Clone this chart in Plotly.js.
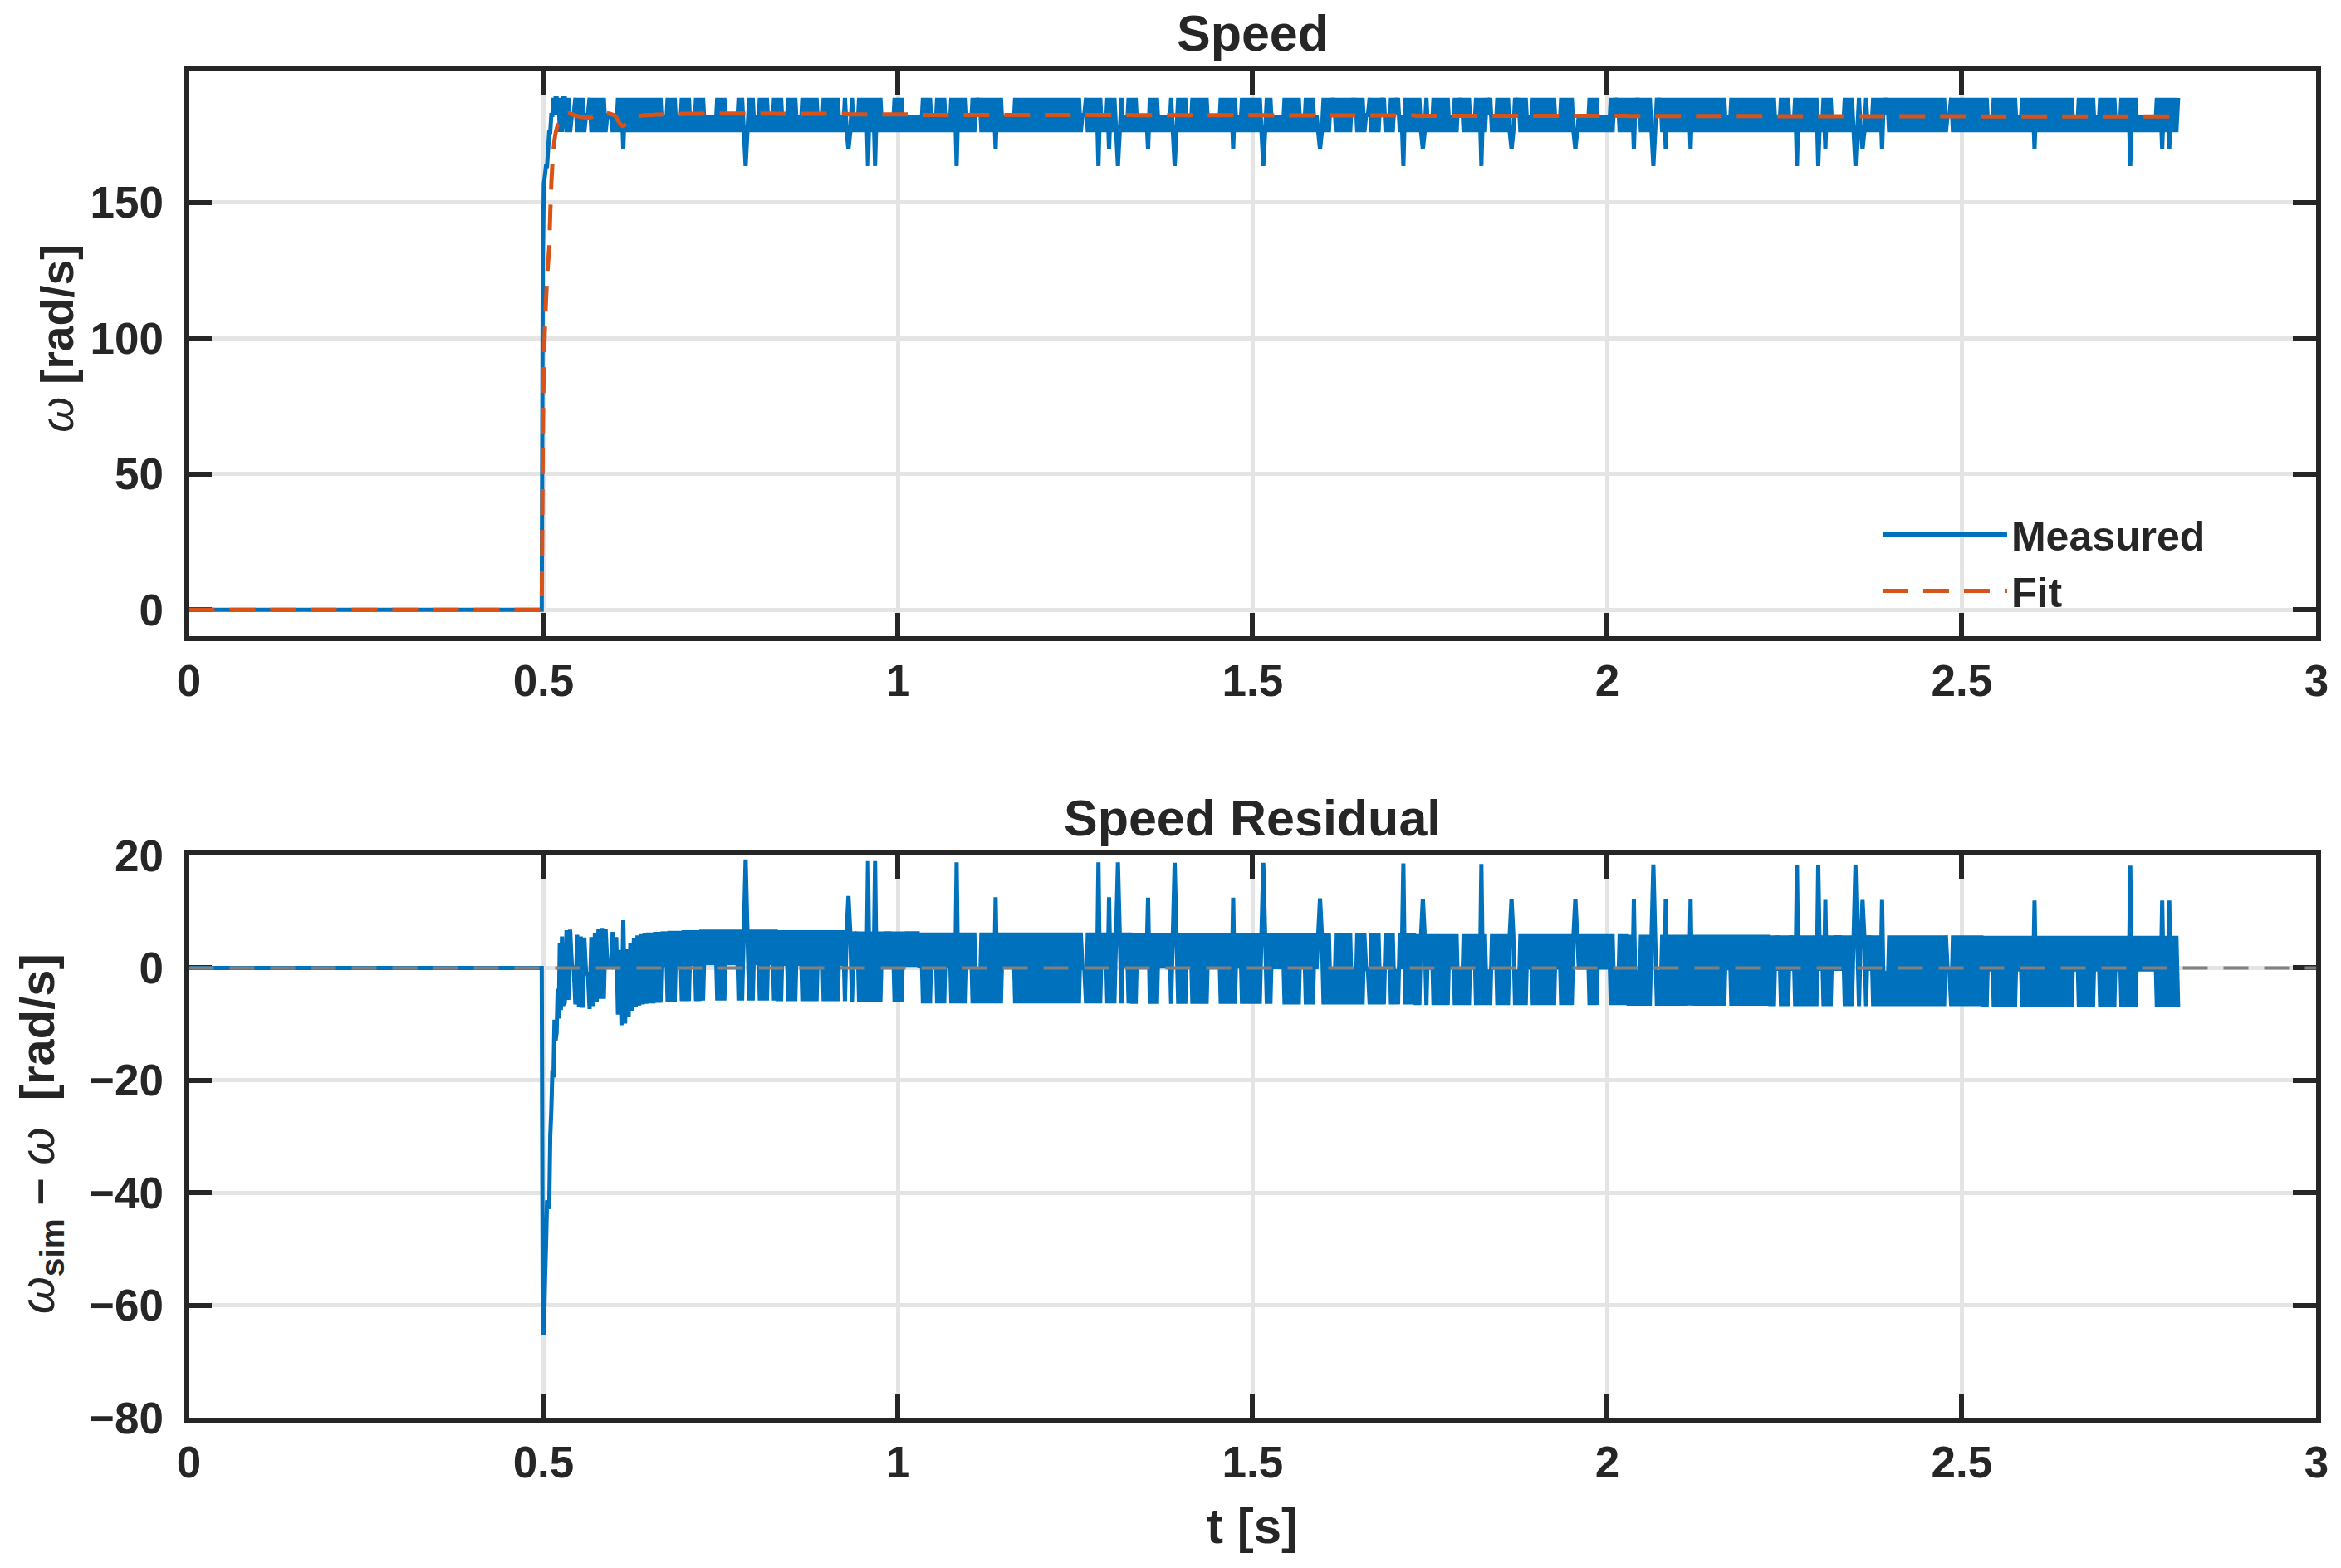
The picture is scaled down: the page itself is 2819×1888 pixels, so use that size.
<!DOCTYPE html>
<html>
<head>
<meta charset="utf-8">
<script src="https://cdn.plot.ly/plotly-3.0.1.min.js"></script>
<style>
body { margin: 0; background: #fff; }
#speed_plot { width: 2819px; height: 1888px; }
</style>
</head>
<body>
<div id="speed_plot"></div>
<script>
const font_family = "Liberation Sans, Arial, sans-serif"
const ink = "#262626"
const blue = "#0072BD"
const orange = "#D95319"

// start of the step, read point by point (s, rad/s)
const riseTime     = [0, 0.4975, 0.499, 0.5005, 0.502, 0.5035, 0.505, 0.5065, 0.508, 0.5095, 0.511, 0.5125, 0.514, 0.5155, 0.517, 0.5185, 0.52, 0.5215, 0.523, 0.5245, 0.526, 0.5275]
const riseMeasured = [0, 0, 130, 157, 160, 163.4, 163.4, 169.6, 175.9, 175.9, 182.2, 182.2, 188.5, 182.2, 188.5, 188.5, 182.2, 188.5, 175.9, 188.5, 175.9, 188.5]
const riseFit      = [0, 0, 65, 92, 104, 114, 122, 128, 133, 146, 157, 164, 169, 173, 175.5, 177, 178.5, 179.5, 180.4, 181, 181.5, 181.9]

// from 0.53 s on the log has one sample every 2.5 ms
const steadyStart = 0.530
const steadyDt = 0.0025
const samplesPerRow = 40

// measured speed only takes these encoder steps (rad/s)
const speedLevels = [163.4, 169.6, 175.9, 182.2, 188.5]

// index into speedLevels, one row per 0.1 s
const measuredLevel = [
    4,2,4,2,3,3,4,2,4,2,4,2,3,3,4,2,4,2,4,2, 4,2,4,2,3,3,3,2,3,2,4,2,4,1,4,2,4,2,4,2,
    4,2,4,2,4,2,4,2,4,2,4,2,4,2,4,2,3,2,4,2, 4,2,4,2,3,2,4,2,4,2,4,2,3,2,4,2,4,2,4,2,
    3,2,3,2,3,2,4,2,4,2,4,2,3,2,3,2,3,2,4,2, 4,2,0,2,4,2,4,2,3,2,4,2,4,2,4,2,3,2,4,2,
    4,2,4,2,3,2,4,2,4,2,4,2,3,2,4,2,4,2,4,2, 4,2,4,2,3,2,4,2,4,2,4,2,4,2,4,2,3,2,4,2,
    1,2,4,2,3,2,4,2,4,2,4,0,4,2,4,0,4,2,4,2, 3,2,3,2,3,2,4,2,4,2,4,2,3,2,3,2,3,2,3,2,
    3,2,4,2,4,2,4,2,3,2,4,2,4,2,4,2,3,2,4,2, 4,0,4,2,4,2,4,2,3,2,4,2,4,3,4,2,4,2,4,2,
    4,2,4,1,4,2,4,2,3,2,3,2,3,2,4,2,4,2,4,2, 4,2,4,2,4,2,4,2,4,2,4,2,4,2,4,2,4,2,4,2,
    4,2,4,2,4,2,4,2,4,2,4,2,3,3,4,2,4,2,4,2, 4,0,4,2,3,2,4,1,4,2,4,2,0,2,4,2,3,2,4,2,
    4,2,4,2,3,2,3,2,3,1,4,2,4,2,4,2,3,2,3,2, 3,2,4,2,0,2,4,2,4,2,4,2,3,2,4,2,4,2,4,2,
    4,2,4,2,3,2,3,2,3,2,4,2,4,2,4,2,4,1,4,2, 3,2,4,2,4,2,4,2,4,2,4,2,4,2,0,2,4,2,4,2,
    3,2,3,2,3,2,4,2,4,2,4,2,4,2,4,2,3,2,4,2, 4,2,4,2,3,2,1,2,4,2,4,2,4,3,4,2,4,2,4,2,
    4,2,4,2,4,3,4,2,4,2,4,2,3,3,4,2,4,2,4,2, 4,3,4,2,3,2,4,2,4,3,4,2,3,0,4,2,4,2,4,2,
    4,2,4,2,1,2,4,2,3,2,4,2,4,2,4,2,4,2,4,2, 3,2,4,2,4,3,4,2,4,2,4,2,3,2,4,2,4,0,4,2,
    4,3,4,2,3,2,4,2,4,2,4,2,4,2,1,2,4,3,4,2, 4,2,4,2,3,2,4,2,4,2,4,2,4,2,4,2,4,2,4,2,
    3,2,4,2,4,2,4,2,4,2,1,2,3,2,3,2,3,2,4,2, 4,2,4,2,3,2,3,2,3,2,4,2,4,3,4,2,4,2,4,2,
    4,2,4,1,4,3,4,2,4,2,4,2,4,2,0,2,4,3,4,2, 4,1,4,2,4,2,4,2,4,2,4,2,4,2,4,1,4,2,4,2,
    4,2,4,2,4,2,4,2,4,2,4,2,4,2,4,2,3,2,4,2, 4,2,4,2,4,2,4,2,4,2,4,2,4,2,4,2,4,2,4,2,
    4,2,4,2,3,2,4,2,4,2,4,2,3,2,4,0,4,2,4,2, 4,2,4,2,4,2,4,0,3,2,4,1,4,2,4,2,3,2,3,2,
    3,2,4,2,4,2,4,2,0,2,4,2,1,2,4,2,3,2,4,2, 4,2,4,1,4,3,4,2,4,2,4,2,4,2,4,2,4,2,4,2,
    4,2,4,2,4,2,4,2,4,2,4,2,4,2,4,2,4,2,4,2, 3,3,4,2,4,2,4,2,4,2,4,2,4,2,4,2,4,2,4,2,
    4,2,4,2,3,2,4,2,4,2,4,2,4,2,4,2,4,2,4,2, 3,2,4,2,4,2,4,2,4,1,4,2,4,2,4,2,4,2,4,2,
    4,2,4,2,4,2,4,2,4,2,4,2,3,2,4,2,4,2,4,2, 4,2,4,2,3,2,4,2,4,2,4,2,4,2,4,2,3,2,4,2,
    4,2,4,0,4,2,4,2,3,2,3,2,3,2,3,2,3,2,4,2, 4,1,4,2,4,1,4,2,4,2,4,
]

// fitted model: sample by sample while it still wobbles (0.53 - 0.73 s)
const earlyFit = [
    182.3,182.6,182.8,182.7,182.5,182.2,182.0,181.8,181.6,181.5,181.4,181.3,181.2,181.2,181.2,181.4,181.7,182.1,182.5,182.8,
    183.0,183.0,183.0,182.9,182.8,182.7,182.5,182.3,182.1,181.4,180.2,179.1,178.3,178.1,178.6,179.2,179.8,180.4,180.9,181.2,
    181.5,181.7,181.8,181.9,182.0,182.1,182.1,182.2,182.2,182.2,182.2,182.3,182.3,182.3,182.3,182.4,182.4,182.4,182.4,182.5,
    182.5,182.5,182.5,182.5,182.5,182.5,182.6,182.6,182.6,182.6,182.6,182.6,182.6,182.6,182.6,182.6,182.6,182.7,182.7,182.7,
]
// then one reading per 0.1 s row (from 0.73 s)
const fitByRow = [182.7, 182.6, 182.4, 182.2, 182.2, 182.2, 182.1, 182.1, 182.0, 182.0, 181.9,
                  181.9, 181.9, 181.8, 181.8, 181.7, 181.7, 181.7, 181.6, 181.6, 181.6]

// reference line of the residual plot
const zeroTime = [0, 3]
const zeroValue = [0, 0]

const timeTicks = [0, 0.5, 1, 1.5, 2, 2.5, 3]
const speedTicks = [0, 50, 100, 150]
const residualTicks = [-80, -60, -40, -20, 0, 20]

// join the sparse rise with the regularly sampled part
const time = riseTime.slice()
const measured = riseMeasured.slice()
const fit = riseFit.slice()
for (let i = 0; i < measuredLevel.length; i++) {
    time.push(+(steadyStart + i * steadyDt).toFixed(4))
    measured.push(speedLevels[measuredLevel[i]])
    if (i < earlyFit.length) {
        fit.push(earlyFit[i])
    } else {
        fit.push(fitByRow[Math.floor(i / samplesPerRow) - 2])
    }
}
const residual = fit.map((f, i) => +(f - measured[i]).toFixed(2))

function axis_style(extra)
{
    return Object.assign({
        showline: true, mirror: "ticks", linecolor: ink, linewidth: 6,
        ticks: "inside", ticklen: 28, tickwidth: 6, tickcolor: ink,
        showgrid: true, gridcolor: "#e4e4e4", gridwidth: 5, zeroline: false,
        layer: "below traces",
        tickfont: { family: font_family, size: 53, color: ink, weight: "bold" },
        fixedrange: true,
    }, extra)
}

const x_dom = [0.0807, 0.9895]

const data = [
    { x: time, y: measured, mode: "lines", name: "Measured", xaxis: "x", yaxis: "y",
      line: { color: blue, width: 5, simplify: false } },
    { x: time, y: fit, mode: "lines", name: "Fit", xaxis: "x", yaxis: "y",
      line: { color: orange, width: 5, dash: "31px,18px", simplify: false } },
    { x: time, y: residual, mode: "lines", showlegend: false, xaxis: "x2", yaxis: "y2",
      line: { color: blue, width: 5, simplify: false } },
    { x: zeroTime, y: zeroValue, mode: "lines", showlegend: false, xaxis: "x2", yaxis: "y2",
      line: { color: "#808080", width: 4, dash: "30px,19px" } },
]

function label(text, x, y, size, angle)
{
    return {
        text: text, x: x, y: y, xref: "paper", yref: "paper",
        xanchor: "center", yanchor: "middle", showarrow: false, textangle: angle || 0,
        font: { family: font_family, size: size, color: ink },
    }
}

const layout = {
    width: 2819, height: 1888,
    margin: { l: 0, r: 0, t: 0, b: 0 },
    paper_bgcolor: "#fff", plot_bgcolor: "#fff",
    showlegend: true,
    legend: {
        x: 0.8024, y: 0.6025, xanchor: "left", yanchor: "bottom",
        bgcolor: "rgba(0,0,0,0)", borderwidth: 0, itemwidth: 150, tracegroupgap: 0,
        font: { family: font_family, size: 50, color: ink, weight: "bold" },
    },
    xaxis: axis_style({ domain: x_dom, anchor: "y", range: [0, 3], tickvals: timeTicks, ticklabelstandoff: 2 }),
    yaxis: axis_style({ domain: [0.5943, 0.9544], anchor: "x", range: [-9.7, 198.2], tickvals: speedTicks, ticklabelstandoff: 14 }),
    xaxis2: axis_style({ domain: x_dom, anchor: "y2", range: [0, 3], tickvals: timeTicks, ticklabelstandoff: 2 }),
    yaxis2: axis_style({ domain: [0.0959, 0.4544], anchor: "x2", range: [-80, 20], tickvals: residualTicks, ticklabelstandoff: 14 }),
    annotations: [
        label("<b>Speed</b>", 0.5351, 0.9788, 61),
        label("<b>Speed Residual</b>", 0.5351, 0.4783, 61),
        label("<b>t [s]</b>", 0.5351, 0.0265, 60),
        label("<i>ω</i> <b>[rad/s]</b>", 0.0245, 0.784, 55, -90),
        label("<i>ω</i><sub><b>sim</b></sub> <b>–</b> <i>ω</i>  <b>[rad/s]</b>", 0.0175, 0.2770, 58, -90),
    ],
}

Plotly.newPlot("speed_plot", data, layout, { displayModeBar: false, staticPlot: true })
</script>
</body>
</html>
